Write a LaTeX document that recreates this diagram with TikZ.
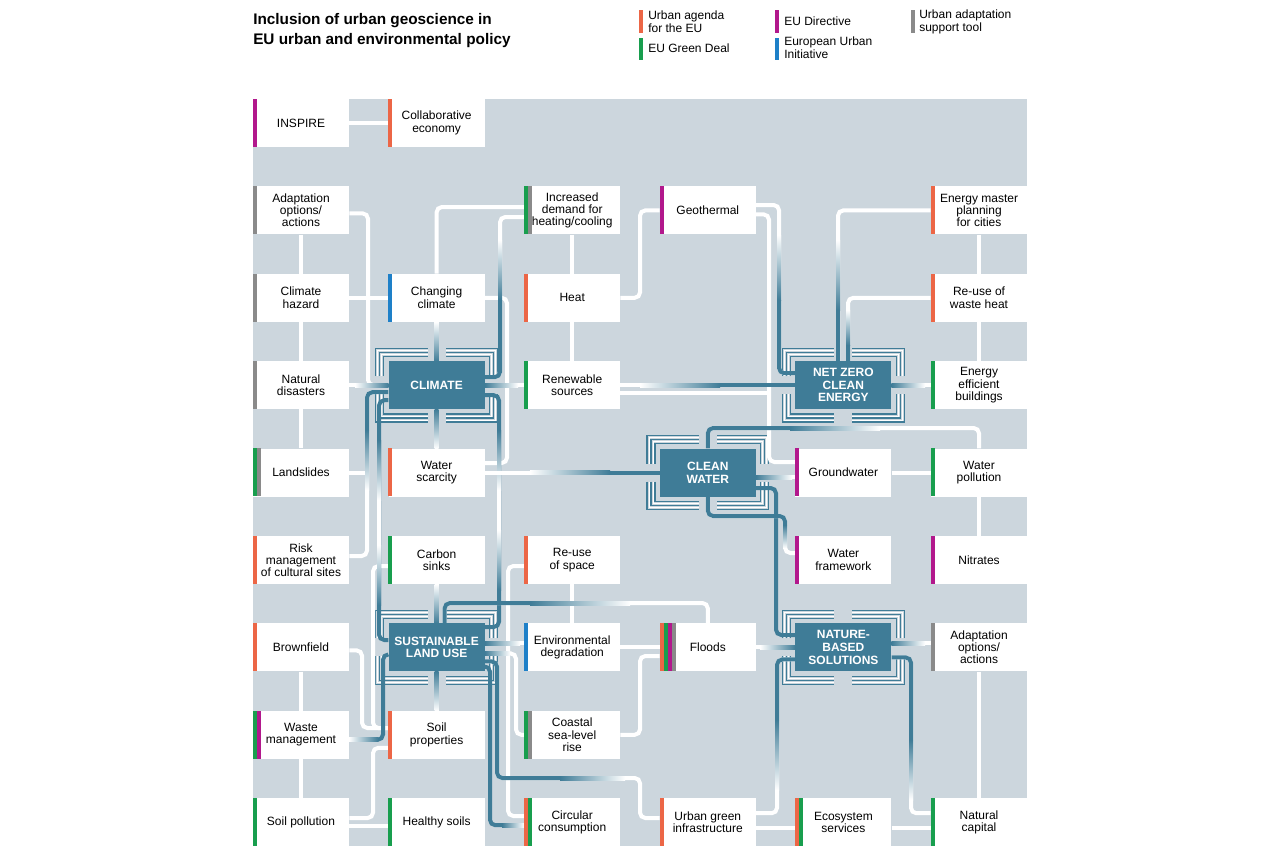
\documentclass[tikz,border=0pt]{standalone}
\usepackage{fontspec}
\setmainfont{Liberation Sans}
\usetikzlibrary{calc}
\pgfdeclarelayer{bg}
\pgfsetlayers{bg,main}
\definecolor{panel}{RGB}{204,214,221}
\definecolor{hubc}{RGB}{63,124,151}
\definecolor{cor}{RGB}{236,102,70}
\definecolor{cgr}{RGB}{24,158,78}
\definecolor{cmg}{RGB}{178,24,140}
\definecolor{cbl}{RGB}{30,128,200}
\definecolor{cgy}{RGB}{138,138,138}
\tikzset{
 box/.style={fill=white, minimum width=72pt, minimum height=36pt, inner sep=0pt, align=center, font=\fontsize{9}{9.2}\selectfont},
 hub/.style={fill=hubc, text=white, minimum width=72pt, minimum height=36pt, inner sep=0pt, align=center, font=\fontsize{9}{9.4}\selectfont\bfseries},
 wl/.style={draw=white, line width=3pt, rounded corners=4pt},
 bl/.style={draw=hubc, line width=3pt, rounded corners=4pt},
 lgtext/.style={anchor=west, inner sep=0pt, align=left, font=\fontsize{9}{9.6}\selectfont},
 ttl/.style={anchor=base west, inner sep=0pt, font=\fontsize{11.5}{15}\selectfont\bfseries},
}
\newcommand\cbars[2]{\foreach \cc [count=\ii from 0] in {#2} {\fill[fill=\cc] ($(#1.north west)+(4*\ii,0)$) rectangle ++(4,48);}}
\newcommand\hubframe[1]{%
 \foreach \dd/\cc/\ww in {4.5/hubc/0.9,8.5/hubc/0.9,12.5/hubc/0.9,6.5/white/0.6,10.5/white/0.6}{%
  \draw[draw=\cc, line width=\ww pt] ($(#1.west)+(-\dd,-9)$) |- ($(#1.north)+(-9,-\dd)$);
  \draw[draw=\cc, line width=\ww pt] ($(#1.east)+(\dd,-9)$) |- ($(#1.north)+(9,-\dd)$);
  \draw[draw=\cc, line width=\ww pt] ($(#1.west)+(-\dd,9)$) |- ($(#1.south)+(-9,\dd)$);
  \draw[draw=\cc, line width=\ww pt] ($(#1.east)+(\dd,9)$) |- ($(#1.south)+(9,\dd)$);
 }}
% fades: blue -> white
\newcommand\fhr[3]{\shade[left color=hubc,right color=white] (#1,#3-2) rectangle (#2,#3+2);}
\newcommand\fhl[3]{\shade[left color=white,right color=hubc] (#1,#3-2) rectangle (#2,#3+2);}
\newcommand\fvd[3]{\shade[top color=hubc,bottom color=white] (#1-2,#2) rectangle (#1+2,#3);}
\newcommand\fvu[3]{\shade[top color=white,bottom color=hubc] (#1-2,#2) rectangle (#1+2,#3);}
\begin{document}
\begin{tikzpicture}[x=0.75pt,y=-0.75pt]
\useasboundingbox (0,0) rectangle (1280,860);
% title and legend
\node[ttl] (title1) at (253,24) {Inclusion of urban geoscience in};
\node[ttl] (title2) at (253,44) {EU urban and environmental policy};
\fill[cor] (639,10) rectangle (643,33);
\node[lgtext] (lg1) at (648,21.5) {Urban agenda\\for the EU};
\fill[cgr] (639,37.5) rectangle (643,60);
\node[lgtext] (lg2) at (648,48) {EU Green Deal};
\fill[cmg] (775,10) rectangle (779,33);
\node[lgtext] (lg3) at (784,21.5) {EU Directive};
\fill[cbl] (775,37.5) rectangle (779,60);
\node[lgtext] (lg4) at (784,48) {European Urban\\Initiative};
\fill[cgy] (911,10) rectangle (915,33);
\node[lgtext] (lg5) at (919,21.5) {Urban adaptation\\support tool};
% nodes
\node[box] (inspire) at (301,123) {INSPIRE};
\node[box] (collab) at (436.6,123) {Collaborative\\economy};
\node[box] (adaptA) at (301,210.4) {Adaptation\\options/\\actions};
\node[box] (demand) at (572.2,210.4) {Increased\\demand for\\heating/cooling};
\node[box] (geo) at (707.8,210.4) {Geothermal};
\node[box] (master) at (979,210.4) {Energy master\\planning\\for cities};
\node[box] (hazard) at (301,297.8) {Climate\\hazard};
\node[box] (changing) at (436.6,297.8) {Changing\\climate};
\node[box] (heat) at (572.2,297.8) {Heat};
\node[box] (wasteheat) at (979,297.8) {Re-use of\\waste heat};
\node[box] (disasters) at (301,385.2) {Natural\\disasters};
\node[hub] (CLIM) at (436.6,385.2) {CLIMATE};
\node[box] (renew) at (572.2,385.2) {Renewable\\sources};
\node[hub] (NZ) at (843.4,385.2) {NET ZERO\\CLEAN\\ENERGY};
\node[box] (effic) at (979,385.2) {Energy\\efficient\\buildings};
\node[box] (landsl) at (301,472.6) {Landslides};
\node[box] (scarcity) at (436.6,472.6) {Water\\scarcity};
\node[hub] (CW) at (707.8,472.6) {CLEAN\\WATER};
\node[box] (ground) at (843.4,472.6) {Groundwater};
\node[box] (wpoll) at (979,472.6) {Water\\pollution};
\node[box] (risk) at (301,560) {Risk\\management\\of cultural sites};
\node[box] (carbon) at (436.6,560) {Carbon\\sinks};
\node[box] (reuse) at (572.2,560) {Re-use\\of space};
\node[box] (wframe) at (843.4,560) {Water\\framework};
\node[box] (nitrates) at (979,560) {Nitrates};
\node[box] (brown) at (301,647.4) {Brownfield};
\node[hub] (SLU) at (436.6,647.4) {SUSTAINABLE\\LAND USE};
\node[box] (envdeg) at (572.2,647.4) {Environmental\\degradation};
\node[box] (floods) at (707.8,647.4) {Floods};
\node[hub] (NBS) at (843.4,647.4) {NATURE-\\BASED\\SOLUTIONS};
\node[box] (adaptB) at (979,647.4) {Adaptation\\options/\\actions};
\node[box] (wastem) at (301,734.8) {Waste\\management};
\node[box] (soilprop) at (436.6,734.8) {Soil\\properties};
\node[box] (coastal) at (572.2,734.8) {Coastal\\sea-level\\rise};
\node[box] (soilpol) at (301,822.2) {Soil pollution};
\node[box] (healthy) at (436.6,822.2) {Healthy soils};
\node[box] (circular) at (572.2,822.2) {Circular\\consumption};
\node[box] (ugi) at (707.8,822.2) {Urban green\\infrastructure};
\node[box] (eco) at (843.4,822.2) {Ecosystem\\services};
\node[box] (natcap) at (979,822.2) {Natural\\capital};
% colour bars
\cbars{inspire}{cmg} \cbars{collab}{cor} \cbars{adaptA}{cgy} \cbars{demand}{cgr,cgy}
\cbars{geo}{cmg} \cbars{master}{cor} \cbars{hazard}{cgy} \cbars{changing}{cbl}
\cbars{heat}{cor} \cbars{wasteheat}{cor} \cbars{disasters}{cgy} \cbars{renew}{cgr}
\cbars{effic}{cgr} \cbars{landsl}{cgr,cgy} \cbars{scarcity}{cor} \cbars{ground}{cmg}
\cbars{wpoll}{cgr} \cbars{risk}{cor} \cbars{carbon}{cgr} \cbars{reuse}{cor}
\cbars{wframe}{cmg} \cbars{nitrates}{cmg} \cbars{brown}{cor} \cbars{envdeg}{cbl}
\cbars{floods}{cor,cgr,cmg,cgy} \cbars{adaptB}{cgy} \cbars{wastem}{cgr,cmg}
\cbars{soilprop}{cor} \cbars{coastal}{cgr,cgy} \cbars{soilpol}{cgr} \cbars{healthy}{cgr}
\cbars{circular}{cor,cgr} \cbars{ugi}{cor} \cbars{eco}{cor,cgr} \cbars{natcap}{cgr}
\begin{pgfonlayer}{bg}
\fill[panel] (253,99) rectangle (1026.6,846.2);
\hubframe{CLIM}\hubframe{NZ}\hubframe{CW}\hubframe{SLU}\hubframe{NBS}
\coordinate (j1) at (769,393.2);
\coordinate (j2) at (367,472.6);
% white connectors
\draw[wl] (inspire.east) -- (collab.west);
\draw[wl] (adaptA.south) -- (hazard.north);
\draw[wl] (hazard.south) -- (disasters.north);
\draw[wl] (disasters.south) -- (landsl.north);
\draw[wl] (brown.south) -- (wastem.north);
\draw[wl] (wastem.south) -- (soilpol.north);
\draw[wl] (hazard.east) -- (changing.west);
\draw[wl] (demand.south) -- (heat.north);
\draw[wl] (heat.south) -- (renew.north);
\draw[wl] (master.south) -- (wasteheat.north);
\draw[wl] (wasteheat.south) -- (effic.north);
\draw[wl] (wpoll.south) -- (nitrates.north);
\draw[wl] (ground.east) -- (wpoll.west);
\draw[wl] (reuse.south) -- (envdeg.north);
\draw[wl] (envdeg.east) -- (floods.west);
\draw[wl] (adaptB.south) -- (natcap.north);
\draw[wl] ($(soilpol.east)+(0,4)$) -- ($(healthy.west)+(0,4)$);
\draw[wl] ($(ugi.east)+(0,6)$) -- ($(eco.west)+(0,6)$);
\draw[wl] ($(eco.east)+(0,6)$) -- ($(natcap.west)+(0,6)$);
\draw[wl] ($(adaptA.east)+(0,3)$) -- (368,213.4) -- (368,385.2) -- (CLIM.west);
\draw[wl] (changing.north) -- (436.6,207) -- ($(demand.west)+(0,-3.4)$);
\draw[wl] (changing.east) -- (507,297.8) -- (507,463) -- ($(scarcity.east)+(0,-9.6)$);
\draw[wl] (heat.east) -- (640,297.8) -- (640,210.4) -- (geo.west);
\draw[wl] ($(geo.east)+(0,4)$) -- (769,214.4) -- (769,462) -- ($(ground.west)+(0,-10.6)$);
\draw[wl] ($(renew.east)+(0,8)$) -- (j1);
\draw[wl] ($(reuse.west)+(0,6)$) -- (508,566) -- (508,816) -- ($(circular.west)+(0,-6.2)$);
\draw[wl] (coastal.east) -- (640,734.8) -- (640,656) -- ($(floods.west)+(0,8.6)$);
\draw[wl] ($(brown.east)+(0,3)$) -- (362,650.4) -- (362,728) -- ($(soilprop.west)+(0,-6.8)$);
\draw[wl] ($(soilprop.west)+(0,13)$) -- (373,747.8) -- (373,818) -- ($(soilpol.east)+(0,-4.2)$);
\draw[wl] (landsl.east) -- (j2);
\draw[wl] ($(carbon.west)+(0,6)$) -- (373,566) -- (373,728) -- ($(soilprop.west)+(0,-6.8)$);
% hub connectors
\draw[wl] (CLIM.north) -- (changing.south); \fvu{436.6}{321.8}{361.2}
\draw[wl] (CLIM.south) -- (scarcity.north); \fvd{436.6}{409.2}{448.6}
\draw[wl] (disasters.east) -- (CLIM.west); \fhl{355}{388.6}{385.2}
\draw[wl] (CLIM.east) -- (renew.west); \fhr{484.6}{518}{385.2}
\draw[wl] ($(CLIM.east)+(0,-8)$) -- (500,377.2) -- (500,217) -- ($(demand.west)+(0,6.6)$);
\draw[bl] ($(CLIM.east)+(0,-8)$) -- (500,377.2) -- (500,300); \fvu{500}{240}{300}
\draw[bl] ($(CLIM.east)+(0,10)$) -- (499,395.2) -- (499,627) -- ($(SLU.east)+(0,-20.4)$);
\fvd{499}{430}{490} \fill[white] (497,490) rectangle (501,530); \fvu{499}{530}{590}
\draw[wl] ($(CLIM.west)+(0,7)$) -- (367,392.2) -- (367,556) -- ($(risk.east)+(0,-4)$);
\draw[bl] ($(CLIM.west)+(0,7)$) -- (367,392.2) -- (367,430); \fvd{367}{430}{490}
\draw[bl] ($(CLIM.west)+(0,15)$) -- (379,400.2) -- (379,640) -- ($(SLU.west)+(0,-7.4)$);
\fvd{379}{440}{500} \fill[white] (377,500) rectangle (381,545); \fvu{379}{545}{605}
\draw[wl] ($(NZ.west)+(0,-12)$) -- (779,373.2) -- (779,205) -- ($(geo.east)+(0,-5.4)$);
\draw[bl] ($(NZ.west)+(0,-12)$) -- (779,373.2) -- (779,300); \fvu{779}{235}{300}
\draw[wl] (renew.east) -- (NZ.west);
\draw[bl] (720,385.2) -- (NZ.west); \fhl{640}{720}{385.2}
\draw[wl] ($(NZ.north)+(-5.4,0)$) -- (838,210.4) -- (master.west);
\draw[bl] ($(NZ.north)+(-5.4,0)$) -- (838,310); \fvu{838}{240}{310}
\draw[wl] ($(NZ.north)+(4.6,0)$) -- (848,297.8) -- (wasteheat.west);
\draw[bl] ($(NZ.north)+(4.6,0)$) -- (848,345); \fvu{848}{310}{345}
\draw[wl] (NZ.east) -- (effic.west); \fhr{891.4}{925}{385.2}
\draw[wl] (CW.north) -- (707.8,428) -- (979,428) -- (wpoll.north);
\draw[bl] (CW.north) -- (707.8,428) -- (790,428); \fhr{790}{880}{428}
\draw[wl] ($(CW.east)+(0,4.4)$) -- ($(ground.west)+(0,4.4)$); \fhr{755.8}{792}{477}
\draw[bl] ($(CW.east)+(0,15.4)$) -- (776,488) -- (776,635) -- ($(NBS.west)+(0,-12.4)$);
\draw[wl] (CW.south) -- (707.8,516) -- (785,516) -- (785,553) -- ($(wframe.west)+(0,-7)$);
\draw[bl] (CW.south) -- (707.8,516) -- (785,516) -- (785,525); \fvd{785}{525}{548}
\draw[wl] (scarcity.east) -- (CW.west);
\draw[bl] (610,472.6) -- (CW.west); \fhl{530}{610}{472.6}
\draw[wl] (SLU.north) -- (carbon.south); \fvu{436.6}{584}{623.4}
\draw[wl] (SLU.south) -- (soilprop.north); \fvd{436.6}{671.4}{710.8}
\draw[wl] ($(SLU.north)+(8,0)$) -- (444.6,603) -- (707.8,603) -- (floods.north);
\draw[bl] ($(SLU.north)+(8,0)$) -- (444.6,603) -- (530,603); \fhr{530}{630}{603}
\draw[wl] ($(SLU.east)+(0,-4)$) -- ($(envdeg.west)+(0,-4)$); \fhr{484.6}{520}{643.4}
\draw[wl] ($(SLU.east)+(0,6)$) -- (516,653.4) -- (516,734.8) -- (coastal.west); \fhr{484.6}{510}{653.4}
\draw[wl] ($(SLU.east)+(0,14)$) -- (497,661.4) -- (497,778) -- (640,778) -- (640,818) -- ($(ugi.west)+(0,-4.2)$);
\draw[bl] ($(SLU.east)+(0,14)$) -- (497,661.4) -- (497,778) -- (560,778); \fhr{560}{625}{778}
\draw[bl] ($(SLU.east)+(0,19)$) -- (490,666.4) -- (490,825.2) -- ($(circular.west)+(0,3)$); \fhr{502}{524.2}{825.2}
\draw[bl] ($(SLU.west)+(0,7)$) -- (383,654.4) -- (383,739.8) -- ($(wastem.east)+(0,5)$); \fhl{349}{378}{739.8}
\draw[wl] (floods.east) -- (NBS.west); \fhl{760}{795.4}{647.4}
\draw[wl] ($(NBS.west)+(0,12)$) -- (777,659.4) -- (777,813.2) -- ($(ugi.east)+(0,-9)$);
\draw[bl] ($(NBS.west)+(0,12)$) -- (777,659.4) -- (777,720); \fvd{777}{720}{790}
\draw[wl] ($(NBS.east)+(0,-4)$) -- ($(adaptB.west)+(0,-4)$); \fhr{891.4}{925}{643.4}
\draw[wl] ($(NBS.east)+(0,10)$) -- (911,657.4) -- (911,813.2) -- ($(natcap.west)+(0,-9)$);
\draw[bl] ($(NBS.east)+(0,10)$) -- (911,657.4) -- (911,740); \fvd{911}{740}{800}
\end{pgfonlayer}
\end{tikzpicture}
\end{document}
